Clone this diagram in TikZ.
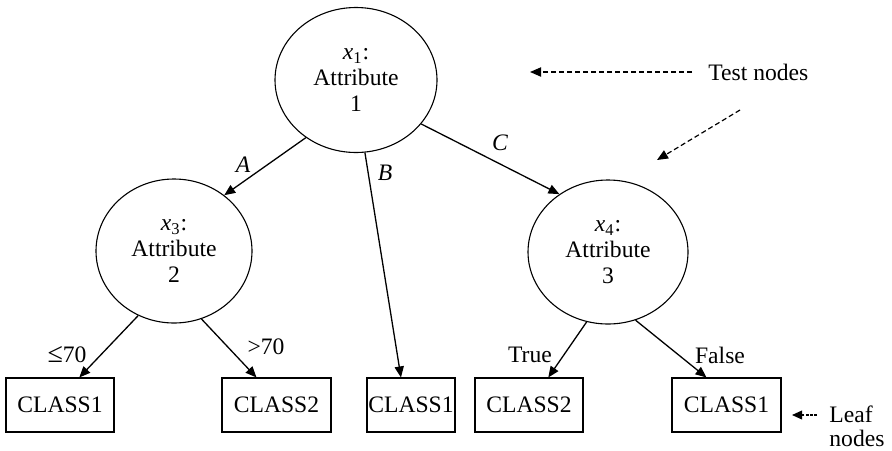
\documentclass[tikz,border=0pt]{standalone}
\usepackage{fontspec}
\setmainfont{Liberation Serif}
\usetikzlibrary{shapes.geometric,arrows.meta}
\begin{document}
\begin{tikzpicture}[x=0.5pt,y=-0.5pt,
  every node/.style={font=\fontsize{11.8pt}{13pt}\selectfont},
  test/.style={ellipse,draw,line width=0.55pt,inner sep=0pt,align=center},
  leaf/.style={rectangle,draw,line width=0.55pt,minimum height=27pt,inner sep=0pt},
  branch/.style={line width=0.65pt,-{Triangle[length=5.5pt,width=4.6pt]}},
  pointer/.style={line width=0.6pt,dash pattern=on 2.5pt off 1.5pt,-{Triangle[length=5.5pt,width=4.6pt]}},
  dotptr/.style={line width=0.6pt,dash pattern=on 1.3pt off 0.8pt,-{Triangle[length=5pt,width=4.4pt]}},
  lbl/.style={inner sep=0pt}
]
\useasboundingbox (0,0) rectangle (892,450);

% test nodes
\node[test,minimum width=81pt,minimum height=72.5pt] (r) at (356,80) {\textit{x}\textsubscript{1}:\\Attribute\\1};
\node[test,minimum width=78pt,minimum height=72pt] (a2) at (174,251) {\textit{x}\textsubscript{3}:\\Attribute\\2};
\node[test,minimum width=80pt,minimum height=72pt] (a3) at (608,252) {\textit{x}\textsubscript{4}:\\Attribute\\3};

% leaf nodes
\node[leaf,minimum width=54pt] (c1) at (60,405) {CLASS1};
\node[leaf,minimum width=54.5pt] (c2) at (276.5,405) {CLASS2};
\node[leaf,minimum width=44pt] (c3) at (411,405) {CLASS1};
\node[leaf,minimum width=54pt] (c4) at (529,405) {CLASS2};
\node[leaf,minimum width=54.5pt] (c5) at (726.5,405) {CLASS1};

% branches
\draw[branch] (r.229) -- (a2.48);
\draw[branch] (r.277) -- (c3.110);
\draw[branch] (r.326) -- (a3.130);
\draw[branch] (a2.241) -- (c1.55);
\draw[branch] (a2.292) -- (c2.126);
\draw[branch] (a3.253) -- (c4.55);
\draw[branch] (a3.292) -- (c5.126);

% branch labels
\node[lbl] (la) at (243,165) {\textit{A}};
\node[lbl] (lb) at (385,173) {\textit{B}};
\node[lbl] (lc) at (500,143) {\textit{C}};
\node[lbl] (l70a) at (67,355) {{\fontsize{14pt}{14pt}\selectfont ≤}70};
\node[lbl] (l70b) at (266,347) {>70};
\node[lbl] (ltrue) at (530,355) {True};
\node[lbl] (lfalse) at (720,355) {False};

% annotations
\node[lbl,anchor=west] (tn) at (708,72) {Test nodes};
\coordinate (tp1) at (530,72);
\draw[pointer] ([xshift=-8pt]tn.west) -- (tp1);
\coordinate (tp2s) at (740,110);
\coordinate (tp2e) at (657,160);
\draw[pointer] (tp2s) -- (tp2e);

\node[lbl,anchor=north west,align=left,font=\fontsize{11.8pt}{12pt}\selectfont] (ln) at (829,405) {Leaf\\nodes};
\coordinate (lp) at (792,415);
\draw[dotptr] ([shift={(-6pt,-5pt)}]ln.north west) -- (lp);
\end{tikzpicture}
\end{document}
